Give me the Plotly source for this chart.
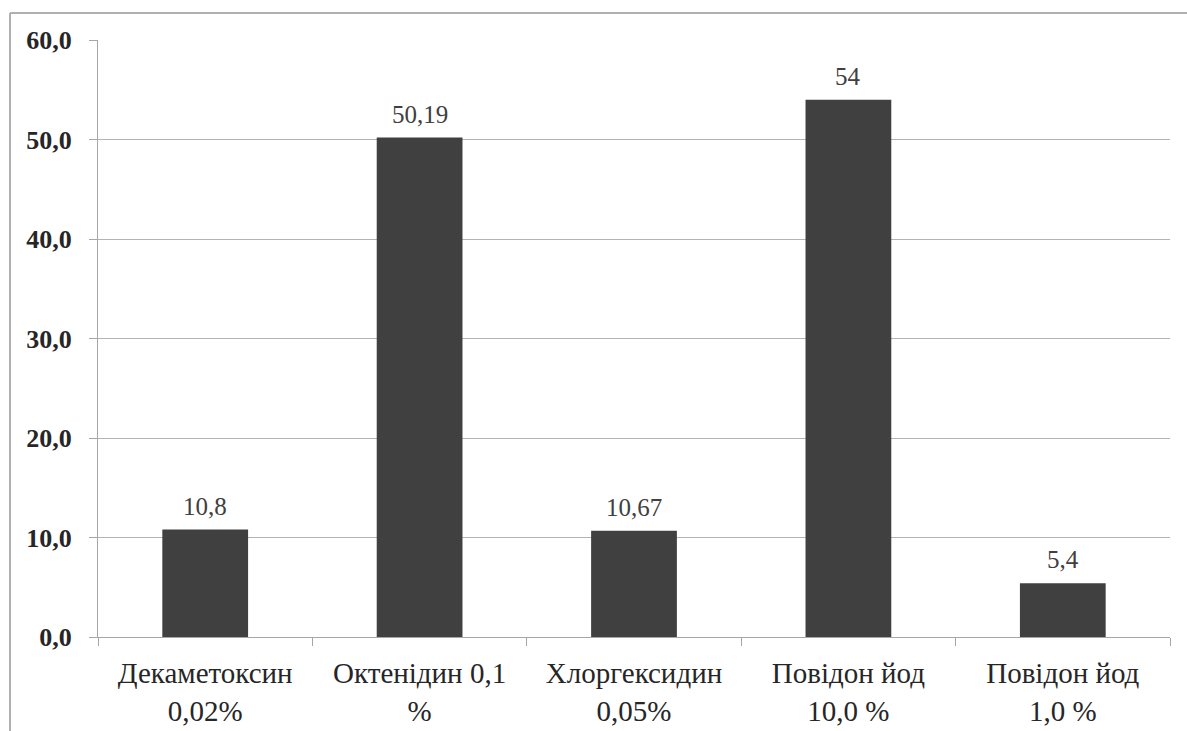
import plotly.graph_objects as go

categories = ["Декаметоксин<br>0,02%", "Октенідин 0,1<br>%", "Хлоргексидин<br>0,05%",
              "Повідон йод<br>10,0 %", "Повідон йод<br>1,0 %"]
values = [10.8, 50.19, 10.67, 54.0, 5.4]
value_labels = ["10,8", "50,19", "10,67", "54", "5,4"]
y_ticks = [0, 10, 20, 30, 40, 50, 60]
y_tick_labels = ["0,0", "10,0", "20,0", "30,0", "40,0", "50,0", "60,0"]

W, H = 1187, 731
L, R, T, B = 98, 17, 40, 94
pw, ph = W - L - R, H - T - B
SERIF = "Liberation Serif, Times New Roman, serif"

fig = go.Figure(go.Bar(
    x=categories, y=values,
    marker=dict(color="#404040", line=dict(width=0)),
    width=0.4, cliponaxis=False,
))

for c, v, t in zip(categories, values, value_labels):
    fig.add_annotation(x=c, y=v, text=t, showarrow=False, yanchor="bottom", yshift=8,
                       font=dict(family=SERIF, size=25, color="#404040"))

grey = "#a6a6a6"
fig.update_layout(
    width=W, height=H, margin=dict(l=L, r=R, t=T, b=B, autoexpand=False),
    paper_bgcolor="white", plot_bgcolor="white", showlegend=False,
    font=dict(family=SERIF, color="#262626"),
    xaxis=dict(type="category", tickson="boundaries", ticks="outside", ticklen=8,
               tickcolor=grey, showline=True, linecolor=grey, linewidth=1,
               showgrid=False, ticklabelstandoff=10, automargin=False,
               tickfont=dict(family=SERIF, size=29, color="#262626")),
    yaxis=dict(range=[0, 60], tickvals=y_ticks, ticktext=y_tick_labels,
               ticks="outside", ticklen=8, tickcolor=grey, showline=True,
               linecolor=grey, linewidth=1, gridcolor="#b3b3b3", gridwidth=1,
               zeroline=False, ticklabelstandoff=12, automargin=False,
               tickfont=dict(size=26, color="#262626", family=SERIF, weight="bold")),
)

# outer frame (top and left edges)
fx = (10 - L) / pw
fy = (H - B - 13) / ph
fig.add_shape(type="line", xref="paper", yref="paper", x0=fx, x1=(W - L) / pw, y0=fy, y1=fy,
              line=dict(color="#b0b0b0", width=2))
fig.add_shape(type="line", xref="paper", yref="paper", x0=fx, x1=fx, y0=fy, y1=-B / ph,
              line=dict(color="#b0b0b0", width=2))

fig.write_html("out.html", config={"displayModeBar": False},
               post_script="document.body.style.margin='0';")
